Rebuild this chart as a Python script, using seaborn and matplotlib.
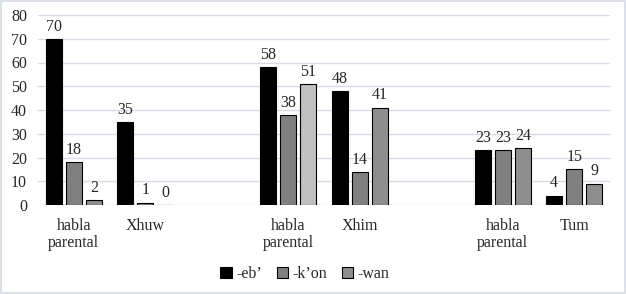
import matplotlib
matplotlib.use("Agg")
import matplotlib.pyplot as plt
import seaborn as sns
import pandas as pd
from matplotlib.patches import Rectangle

# Data
slots = ["hp1", "Xhuw", "blank1", "hp2", "Xhim", "blank2", "hp3", "Tum"]
slot_labels = ["habla\nparental", "Xhuw", "", "habla\nparental", "Xhim", "", "habla\nparental", "Tum"]
categories = ["hp1", "Xhuw", "hp2", "Xhim", "hp3", "Tum"]
series = ["-eb’", "-k’on", "-wan"]
eb = [70, 35, 58, 48, 23, 4]
kon = [18, 1, 38, 14, 23, 15]
wan = [2, 0, 51, 41, 24, 9]

rows = []
for s, vals in zip(series, [eb, kon, wan]):
    for c, v in zip(categories, vals):
        rows.append({"cat": c, "serie": s, "val": v})
df = pd.DataFrame(rows)

sns.set_style("white")
plt.rcParams["font.family"] = ["Liberation Serif", "DejaVu Serif"]

colors = {"-eb’": "#000000", "-k’on": "#808080", "-wan": "#8e8e8e"}

fig = plt.figure(figsize=(6.26, 2.94), dpi=100)
ax = fig.add_axes([38/626, 1-205/294, (610-38)/626, (205-15)/294])

sns.barplot(data=df, x="cat", y="val", hue="serie", order=slots, hue_order=series,
            palette=colors, width=0.84, gap=0.2, edgecolor="black", linewidth=0.8,
            legend=False, ax=ax)

# special light color for -wan of second "habla parental"
wan_cont = ax.containers[2]
for p in wan_cont.patches:
    if abs(p.get_height() - 51) < 1e-6:
        p.set_facecolor("#c0c0c0")

for cont in ax.containers:
    ax.bar_label(cont, fmt="%g", padding=3, fontsize=11.5)

ax.set_ylim(0, 80)
ax.set_yticks(range(0, 81, 10))
ax.set_xlim(-0.5, len(slots) - 0.5)
ax.set_xticks(range(len(slots)))
ax.set_xticklabels(slot_labels, fontsize=11.5, linespacing=1.1)
ax.tick_params(axis="y", labelsize=11.5, length=0, pad=8)
ax.tick_params(axis="x", length=0, pad=9)
ax.set_xlabel("")
ax.set_ylabel("")
ax.grid(axis="y", color="#d6dce5", linewidth=1)
ax.set_axisbelow(True)
for sp in ax.spines.values():
    sp.set_visible(False)

handles = [Rectangle((0, 0), 1, 1, facecolor=colors[s], edgecolor="black", linewidth=0.8) for s in series]
fig.legend(handles, series, loc="center", bbox_to_anchor=(305/626, 1-274/294), ncol=3,
           frameon=False, fontsize=11.5, handlelength=0.7, handleheight=0.7,
           handletextpad=0.3, columnspacing=0.9)

fig.add_artist(Rectangle((0.001, 0.002), 0.997, 0.995, transform=fig.transFigure,
                         fill=False, edgecolor="#d6dce5", linewidth=1.2))

fig.savefig("out.png", dpi=100)
